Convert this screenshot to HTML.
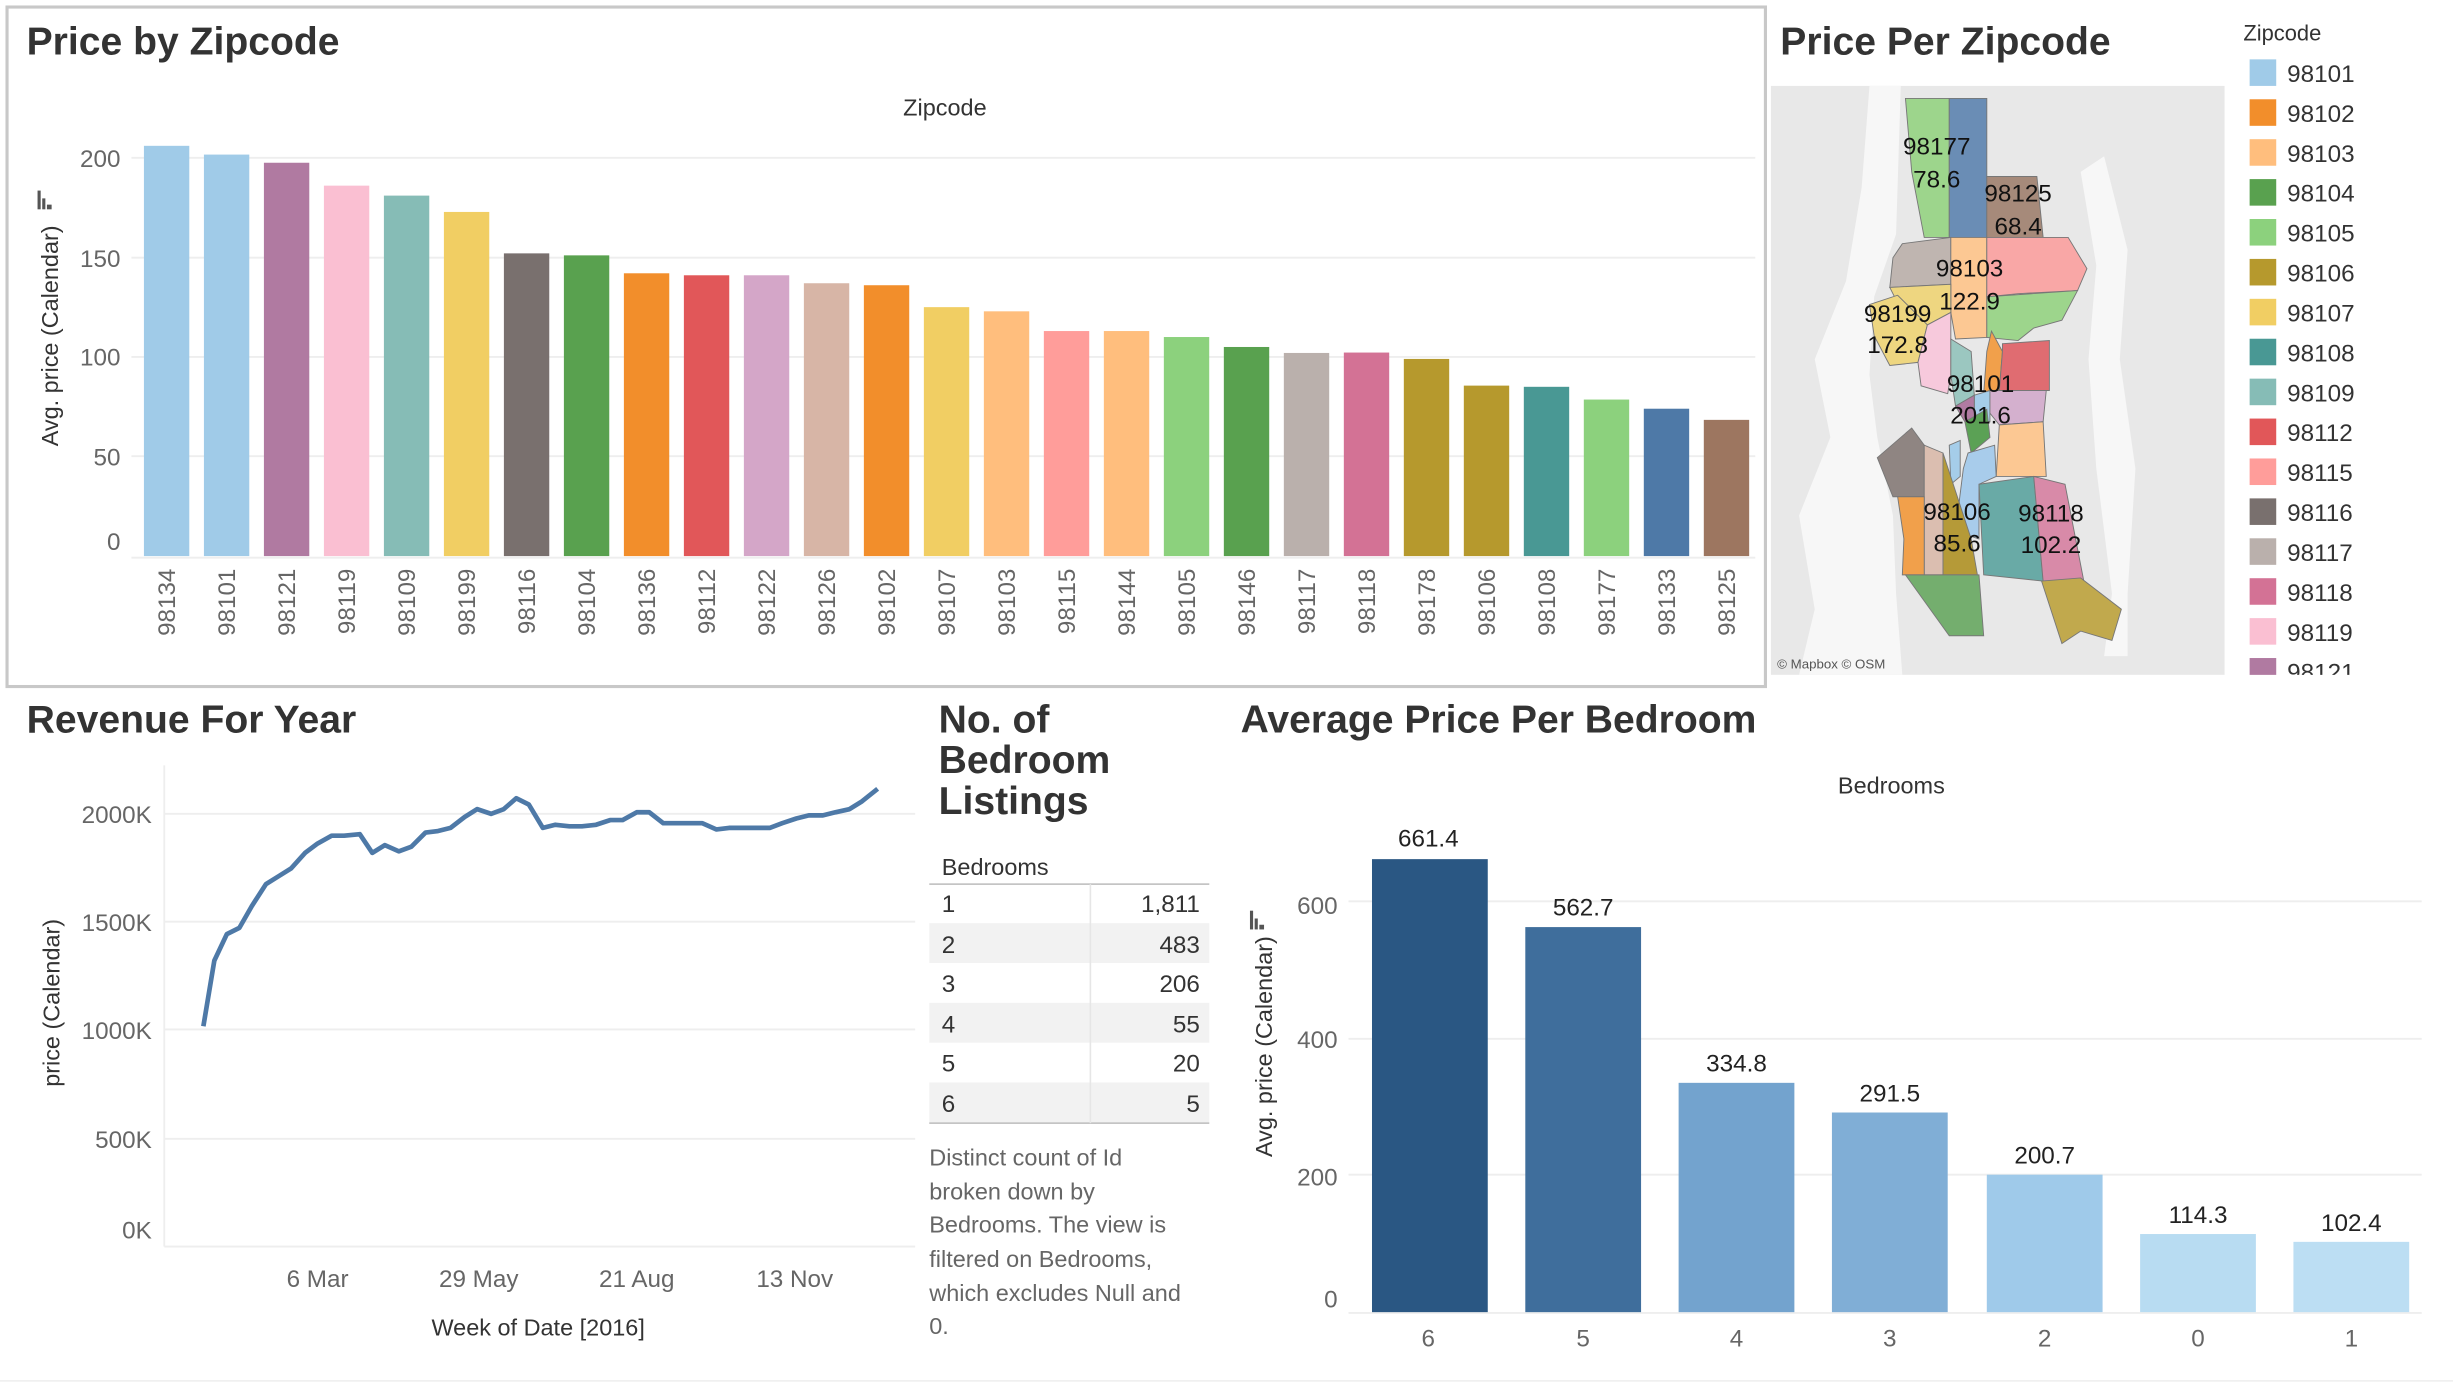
<!DOCTYPE html>
<html><head><meta charset="utf-8"><style>
html,body{margin:0;padding:0;background:#fff;overflow:hidden}
svg{display:block}
text{font-family:"Liberation Sans",sans-serif}
.t{font-weight:bold;font-size:25px;fill:#333}
.tk{font-size:15.5px;fill:#666}
.ax{font-size:15px;fill:#333}
.lab{font-size:15.5px;fill:#111}
</style></head><body>
<svg width="2453" height="1384" viewBox="0 0 1568 886" preserveAspectRatio="none" xmlns="http://www.w3.org/2000/svg">
<rect width="1568" height="886" fill="#fff"/>
<!-- Top panel -->
<rect x="4.5" y="4.5" width="1124" height="435" fill="none" stroke="#c8c8c8" stroke-width="2"/>
<text class="t" x="17" y="35">Price by Zipcode</text>
<text class="ax" x="604" y="74" text-anchor="middle">Zipcode</text>
<g stroke="#eee" stroke-width="1.2">
<line x1="84" x2="1122" y1="101" y2="101"/><line x1="84" x2="1122" y1="165" y2="165"/>
<line x1="84" x2="1122" y1="228.5" y2="228.5"/><line x1="84" x2="1122" y1="292" y2="292"/>
<line x1="84" x2="1122" y1="357" y2="357"/>
</g>
<g class="tk" text-anchor="end">
<text x="77" y="107">200</text><text x="77" y="171">150</text><text x="77" y="234">100</text><text x="77" y="298">50</text><text x="77" y="352">0</text>
</g>
<text class="ax" transform="translate(37,215) rotate(-90)" text-anchor="middle">Avg. price (Calendar)</text>
<g fill="#555"><rect x="24" y="122" width="2" height="12"/><rect x="27" y="127" width="2" height="7"/><rect x="30" y="131" width="3" height="3"/></g>
<g id="bars"></g>
<!-- Map -->
<text class="t" x="1138" y="35">Price Per Zipcode</text>
<rect x="1132" y="55" width="290" height="377" fill="#e8e8e8"/>
<path d="M1195 55 L1215 55 L1212 150 L1198 190 L1195 240 L1200 280 L1210 330 L1212 380 L1216 432 L1150 432 L1160 390 L1150 330 L1170 280 L1160 230 L1180 180 L1190 120Z" fill="#f7f7f7"/>
<path d="M1330 110 L1345 100 L1360 160 L1355 230 L1365 300 L1360 380 L1360 420 L1345 420 L1350 380 L1340 300 L1335 230 L1340 170Z" fill="#f7f7f7"/>
<g stroke="#777" stroke-width="0.6">
<polygon points="1218,63 1246,63 1246,152 1230,152 1222,110" fill="#9dd58c"/>
<polygon points="1246,63 1270,63 1270,152 1246,152" fill="#6a8db5"/>
<polygon points="1270,113 1302,113 1306,152 1270,152" fill="#a68a7a"/>
<polygon points="1216,156 1247,152 1247,182 1208,184 1210,165" fill="#bfb5b0"/>
<polygon points="1247,152 1270,152 1270,216 1250,217 1247,200" fill="#fcc893"/>
<polygon points="1270,152 1322,152 1334,172 1328,186 1290,188 1270,190" fill="#f9a7a6"/>
<polygon points="1208,184 1247,182 1247,200 1232,208 1214,196" fill="#eed680"/>
<polygon points="1270,190 1328,186 1318,205 1300,210 1290,218 1270,216" fill="#9dd58c"/>
<polygon points="1195,195 1213,189 1232,208 1226,232 1208,234 1198,215" fill="#eed680"/>
<polygon points="1232,208 1247,200 1247,240 1245,252 1228,247 1226,232" fill="#f7c9dc"/>
<polygon points="1247,217 1260,225 1262,253 1250,260 1247,240" fill="#9bc7c0"/>
<polygon points="1273,212 1280,225 1278,250 1268,252 1270,225" fill="#f1a04b"/>
<polygon points="1280,220 1310,218 1310,250 1278,250 1280,225" fill="#e06c71"/>
<polygon points="1272,250 1308,250 1306,270 1278,272 1270,262" fill="#d4b0ce"/>
<polygon points="1262,253 1272,250 1272,270 1262,268" fill="#a5cde9"/>
<polygon points="1250,260 1262,253 1262,268 1256,270" fill="#b07ba2"/>
<polygon points="1256,270 1270,262 1272,280 1260,290" fill="#5ba155"/>
<polygon points="1278,272 1306,270 1308,305 1276,305" fill="#fcc893"/>
<polygon points="1200,293 1222,274 1230,285 1230,318 1210,318" fill="#8f8582"/>
<polygon points="1230,285 1242,290 1242,368 1230,368" fill="#dbbeb0"/>
<polygon points="1246,285 1253,282 1253,305 1247,310" fill="#a5cde9"/>
<polygon points="1258,290 1275,285 1276,305 1265,310 1265,345 1250,340 1255,300" fill="#a8cceb"/>
<polygon points="1242,290 1260,345 1264,368 1242,368" fill="#b59a38"/>
<polygon points="1213,318 1230,318 1230,368 1216,368 1217,345" fill="#f1a04b"/>
<polygon points="1265,310 1300,305 1306,372 1268,368" fill="#69aaa6"/>
<polygon points="1300,305 1320,310 1332,372 1306,372" fill="#d88aa8"/>
<polygon points="1218,368 1265,368 1268,407 1246,407" fill="#74ae6e"/>
<polygon points="1305,372 1330,370 1356,390 1350,410 1330,404 1318,412" fill="#c1a94d"/>
</g>
<g class="lab" text-anchor="middle">
<text x="1238" y="99">98177</text><text x="1238" y="120">78.6</text>
<text x="1290" y="129">98125</text><text x="1290" y="150">68.4</text>
<text x="1259" y="177">98103</text><text x="1259" y="198">122.9</text>
<text x="1213" y="206">98199</text><text x="1213" y="226">172.8</text>
<text x="1266" y="251">98101</text><text x="1266" y="271">201.6</text>
<text x="1251" y="333">98106</text><text x="1251" y="353">85.6</text>
<text x="1311" y="334">98118</text><text x="1311" y="354">102.2</text>
</g>
<text x="1136" y="428" font-size="8.5" fill="#555">© Mapbox © OSM</text>
<!-- Legend -->
<text x="1434" y="26" font-size="14" fill="#333">Zipcode</text>
<clipPath id="lc"><rect x="1430" y="30" width="130" height="402"/></clipPath>
<g clip-path="url(#lc)" id="leg"></g>
<!-- Revenue -->
<text class="t" x="17" y="469">Revenue For Year</text>
<g stroke="#eee" stroke-width="1.2">
<line x1="105" x2="585" y1="521" y2="521"/><line x1="105" x2="585" y1="590" y2="590"/>
<line x1="105" x2="585" y1="659" y2="659"/><line x1="105" x2="585" y1="729" y2="729"/>
<line x1="105" x2="585" y1="798" y2="798"/><line x1="105" x2="105" y1="490" y2="798"/>
</g>
<g class="tk" text-anchor="end">
<text x="97" y="527">2000K</text><text x="97" y="596">1500K</text><text x="97" y="665">1000K</text><text x="97" y="735">500K</text><text x="97" y="793">0K</text>
</g>
<text class="ax" transform="translate(38,642) rotate(-90)" text-anchor="middle">price (Calendar)</text>
<g class="tk" text-anchor="middle">
<text x="203" y="824">6 Mar</text><text x="306" y="824">29 May</text><text x="407" y="824">21 Aug</text><text x="508" y="824">13 Nov</text>
</g>
<text class="ax" x="344" y="855" text-anchor="middle">Week of Date [2016]</text>
<polyline fill="none" stroke="#4e79a7" stroke-width="3" stroke-linejoin="round" points="130,657 137,615 145,598 153,594 161,580 170,566 178,561 186,556 195,546 203,540 212,535 220,535 230,534 238,546 246,541 255,545 263,542 272,533 280,532 288,530 297,523 305,518 314,521 322,518 330,511 338,515 347,530 355,528 364,529 372,529 381,528 390,525 398,525 407,520 415,520 424,527 432,527 441,527 449,527 458,531 466,530 475,530 483,530 492,530 500,527 509,524 517,522 526,522 534,520 543,518 551,513 561,505"/>
<!-- Table -->
<g class="t" font-size="24"><text x="600" y="469">No. of</text><text x="600" y="495">Bedroom</text><text x="600" y="521">Listings</text></g>
<text class="ax" x="602" y="560">Bedrooms</text>
<rect x="594" y="591" width="179" height="25.5" fill="#f2f2f2"/>
<rect x="594" y="642" width="179" height="25.5" fill="#f2f2f2"/>
<rect x="594" y="693" width="179" height="25.5" fill="#f2f2f2"/>
<line x1="594" x2="773" y1="566" y2="566" stroke="#bbb"/>
<line x1="594" x2="773" y1="719" y2="719" stroke="#bbb"/>
<line x1="697" x2="697" y1="566" y2="719" stroke="#e6e6e6"/>
<g font-size="15.5" fill="#333">
<text x="602" y="584">1</text><text x="602" y="610">2</text><text x="602" y="635">3</text><text x="602" y="661">4</text><text x="602" y="686">5</text><text x="602" y="712">6</text>
</g>
<g font-size="15.5" fill="#333" text-anchor="end">
<text x="767" y="584">1,811</text><text x="767" y="610">483</text><text x="767" y="635">206</text><text x="767" y="661">55</text><text x="767" y="686">20</text><text x="767" y="712">5</text>
</g>
<g font-size="15" fill="#666">
<text x="594" y="746">Distinct count of Id</text><text x="594" y="768">broken down by</text><text x="594" y="789">Bedrooms. The view is</text>
<text x="594" y="811">filtered on Bedrooms,</text><text x="594" y="833">which excludes Null and</text><text x="594" y="854">0.</text>
</g>
<!-- Bedroom bars -->
<text class="t" x="793" y="469">Average Price Per Bedroom</text>
<text class="ax" x="1209" y="508" text-anchor="middle">Bedrooms</text>
<g stroke="#eee" stroke-width="1.2">
<line x1="862" x2="1548" y1="577" y2="577"/><line x1="862" x2="1548" y1="665" y2="665"/>
<line x1="862" x2="1548" y1="752" y2="752"/><line x1="862" x2="1548" y1="840.5" y2="840.5"/>
</g>
<g class="tk" text-anchor="end">
<text x="855" y="585">600</text><text x="855" y="671">400</text><text x="855" y="759">200</text><text x="855" y="837">0</text>
</g>
<text class="ax" transform="translate(813,670) rotate(-90)" text-anchor="middle">Avg. price (Calendar)</text>
<g fill="#555"><rect x="799" y="583" width="2" height="12"/><rect x="802" y="588" width="2" height="7"/><rect x="805" y="592" width="3" height="3"/></g>
<rect x="877" y="550" width="74" height="290" fill="#2a5783"/>
<rect x="975" y="593.5" width="74" height="246.5" fill="#3f6e9c"/>
<rect x="1073" y="693.2" width="74" height="146.8" fill="#73a3ce"/>
<rect x="1171" y="712.2" width="74" height="127.8" fill="#80aed6"/>
<rect x="1270" y="752" width="74" height="88" fill="#9fcaea"/>
<rect x="1368" y="790" width="74" height="50" fill="#b8dcf2"/>
<rect x="1466" y="795" width="74" height="45" fill="#bcdef3"/>
<g font-size="15.5" fill="#222" text-anchor="middle">
<text x="913" y="542">661.4</text><text x="1012" y="586">562.7</text><text x="1110" y="686">334.8</text><text x="1208" y="705">291.5</text>
<text x="1307" y="745">200.7</text><text x="1405" y="783">114.3</text><text x="1503" y="788">102.4</text>
</g>
<g class="tk" text-anchor="middle">
<text x="913" y="862">6</text><text x="1012" y="862">5</text><text x="1110" y="862">4</text><text x="1208" y="862">3</text><text x="1307" y="862">2</text><text x="1405" y="862">0</text><text x="1503" y="862">1</text>
</g>
<line x1="0" x2="1568" y1="884" y2="884" stroke="#eee"/>
</svg>
<script>
var d=[["98134",206,"#a0cbe8"],["98101",201.6,"#a0cbe8"],["98121",197.5,"#b07aa1"],["98119",186,"#fabfd2"],["98109",181,"#86bcb6"],["98199",172.8,"#f1ce63"],["98116",152,"#79706e"],["98104",151,"#59a14f"],["98136",142,"#f28e2b"],["98112",141,"#e15759"],["98122",141,"#d4a6c8"],["98126",137,"#d7b5a6"],["98102",136,"#f28e2b"],["98107",125,"#f1ce63"],["98103",122.9,"#ffbe7d"],["98115",113,"#ff9d9a"],["98144",113,"#ffbe7d"],["98105",110,"#8cd17d"],["98146",105,"#59a14f"],["98117",102,"#bab0ac"],["98118",102.2,"#d37295"],["98178",99,"#b6992d"],["98106",85.6,"#b6992d"],["98108",85,"#499894"],["98177",78.6,"#8cd17d"],["98133",74,"#4e79a7"],["98125",68.4,"#9d7660"]];
var g=document.getElementById("bars"),h="";
d.forEach(function(b,i){var x=92+i*38.35,hh=b[1]*1.275;
h+='<rect x="'+x+'" y="'+(356-hh)+'" width="29" height="'+hh+'" fill="'+b[2]+'"/>';
h+='<text class="tk" transform="translate('+(x+20)+',364) rotate(-90)" text-anchor="end">'+b[0]+'</text>';});
g.innerHTML=h;
var L=[["98101","#a0cbe8"],["98102","#f28e2b"],["98103","#ffbe7d"],["98104","#59a14f"],["98105","#8cd17d"],["98106","#b6992d"],["98107","#f1ce63"],["98108","#499894"],["98109","#86bcb6"],["98112","#e15759"],["98115","#ff9d9a"],["98116","#79706e"],["98117","#bab0ac"],["98118","#d37295"],["98119","#fabfd2"],["98121","#b07aa1"]];
h="";L.forEach(function(l,i){var y=38+i*25.55;h+='<rect x="1438" y="'+y+'" width="17" height="17" fill="'+l[1]+'"/><text x="1462" y="'+(y+14.5)+'" font-size="15.5" fill="#333">'+l[0]+'</text>';});
document.getElementById("leg").innerHTML=h;
</script>
</body></html>
